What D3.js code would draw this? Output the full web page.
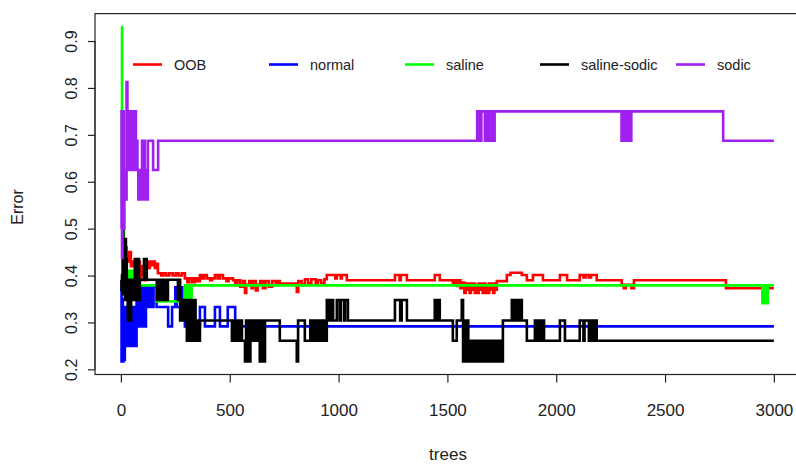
<!DOCTYPE html>
<html><head><meta charset="utf-8">
<script src="https://cdn.jsdelivr.net/npm/d3@7"></script>
<style>
body{margin:0;background:#fff}
svg{display:block}
text{font-family:"Liberation Sans",Arial,sans-serif;fill:#222}
</style>
</head><body>
<svg id="c" width="796" height="464"></svg>
<script>
// ---- data (step change points: [tree, error]) ----
const seriesNames = ["OOB", "normal", "saline", "saline-sodic", "sodic"];
const seriesColors = ["#FF0000", "#0000FF", "#00FF00", "#000000", "#A020F0"];
const xTicks = [0, 500, 1000, 1500, 2000, 2500, 3000];
const yTicks = [0.2, 0.3, 0.4, 0.5, 0.6, 0.7, 0.8, 0.9];
const nTrees = 3000;

const oob = [[1,0.40],[8,0.44],[14,0.42],[20,0.46],[26,0.43],[32,0.45],[37,0.43],[41,0.45],[46,0.42],[52,0.43],[58,0.42],[64,0.43],[72,0.42],[80,0.43],[87,0.39],[92,0.42],[97,0.40],[103,0.42],[108,0.39],[114,0.415],[119,0.43],[128,0.416],[133,0.43],[142,0.422],[150,0.43],[156,0.416],[163,0.425],[170,0.405],[185,0.40],[195,0.405],[208,0.40],[222,0.405],[238,0.40],[252,0.405],[265,0.40],[280,0.405],[294,0.394],[305,0.386],[315,0.394],[328,0.386],[340,0.394],[352,0.388],
[363,0.401],[375,0.394],[382,0.401],[395,0.394],[410,0.39],[418,0.394],[432,0.401],[445,0.394],[455,0.401],[469,0.394],[485,0.388],[495,0.394],[515,0.39],[525,0.38],[535,0.39],[548,0.376],[561,0.388],[570,0.363],[576,0.38],[590,0.388],[600,0.373],[607,0.388],[620,0.368],[628,0.38],[640,0.388],[652,0.373],[664,0.388],[680,0.376],[695,0.388],[712,0.38],[722,0.388],[730,0.383],[808,0.365],[815,0.388],[830,0.38],[845,0.392],[860,0.383],[875,0.392],[895,0.384],[905,0.39],[920,0.383],[935,0.392],
[946,0.401],[985,0.394],[992,0.401],[1010,0.394],[1015,0.401],[1038,0.39],[1259,0.401],[1280,0.39],[1286,0.401],[1314,0.39],[1442,0.401],[1465,0.39],[1525,0.383],[1534,0.39],[1545,0.378],[1552,0.39],[1560,0.373],[1566,0.385],
[1578,0.363],[1584,0.383],[1590,0.37],[1596,0.383],[1602,0.363],[1608,0.383],[1614,0.37],[1620,0.383],[1626,0.363],[1632,0.38],[1638,0.363],[1644,0.383],[1650,0.37],[1656,0.383],[1662,0.363],[1668,0.383],[1674,0.363],[1680,0.38],[1686,0.363],[1692,0.383],[1698,0.37],[1704,0.383],[1710,0.363],[1716,0.383],[1722,0.37],[1727,0.388],
[1773,0.401],[1790,0.406],[1842,0.401],[1865,0.39],[1893,0.401],[1939,0.39],[2017,0.401],[2050,0.39],[2108,0.401],[2125,0.396],[2135,0.401],[2150,0.396],[2160,0.401],[2186,0.39],[2301,0.38],[2310,0.373],[2320,0.38],[2345,0.373],[2357,0.39],[2780,0.373]];

const normal = [[1,0.39],[3,0.217],[6,0.35],[9,0.217],[12,0.333],[15,0.22],[18,0.30],[21,0.25],[25,0.333],[29,0.25],[33,0.375],[37,0.25],[41,0.333],[45,0.25],[49,0.333],[53,0.25],[57,0.333],[61,0.25],[65,0.333],[69,0.25],[72,0.375],[78,0.2917],[83,0.375],[88,0.333],[93,0.2917],[98,0.375],[104,0.333],[110,0.2917],[115,0.375],[118,0.333],[124,0.375],[130,0.333],[136,0.375],[142,0.333],[150,0.375],[164,0.333],[217,0.2917],[235,0.333],[250,0.375],[256,0.333],[275,0.375],[282,0.333],[294,0.2917],[363,0.333],[386,0.2917],[432,0.333],[455,0.2917],[491,0.333],[525,0.2917]];

const saline = [[1,0.93],[5,0.55],[10,0.5],[14,0.45],[20,0.41],[28,0.39],[34,0.41],[42,0.39],[48,0.41],[55,0.379],[164,0.345],[294,0.379],[299,0.345],[304,0.379],[309,0.345],[314,0.379],[319,0.345],[325,0.379],[2947,0.341],[2952,0.379],[2957,0.341],[2962,0.379],[2967,0.341],[2972,0.379]];

const salineSodic = [[1,0.391],[3,0.37],[5,0.40],[7,0.36],[9,0.522],[11,0.391],[13,0.478],[15,0.36],[17,0.435],[19,0.348],[21,0.478],[23,0.391],[25,0.435],[27,0.348],[29,0.391],[32,0.304],[35,0.391],[38,0.304],[41,0.348],[44,0.304],[47,0.391],[50,0.348],[55,0.391],[60,0.348],[64,0.435],[68,0.348],[71,0.435],[75,0.348],[79,0.435],[83,0.348],[87,0.391],[106,0.435],[119,0.391],
[165,0.348],[170,0.391],[175,0.348],[180,0.391],[186,0.348],[192,0.391],[198,0.348],[204,0.391],[210,0.348],[216,0.391],[262,0.348],[267,0.391],[272,0.304],[277,0.348],[282,0.304],[287,0.348],[292,0.304],[297,0.348],[303,0.261],[308,0.348],[313,0.261],[318,0.348],[323,0.261],[328,0.348],[333,0.261],[338,0.348],[343,0.261],[348,0.304],[355,0.261],[363,0.304],
[510,0.261],[515,0.304],[521,0.261],[527,0.304],[533,0.261],[539,0.304],[545,0.261],[551,0.304],[556,0.261],[570,0.217],[575,0.304],[580,0.217],[585,0.304],[590,0.217],[595,0.304],[606,0.261],[611,0.304],[617,0.261],[623,0.304],[629,0.261],[634,0.304],[638,0.217],[643,0.304],[648,0.217],[653,0.304],[658,0.217],[662,0.304],[730,0.261],[808,0.217],[814,0.304],[845,0.261],[870,0.304],
[882,0.261],[888,0.304],[894,0.261],[900,0.304],[906,0.261],[912,0.304],[918,0.261],[924,0.304],[930,0.261],[936,0.304],[942,0.261],[946,0.348],[952,0.304],[958,0.348],[964,0.304],[970,0.348],[975,0.304],[992,0.348],[1005,0.304],[1010,0.348],[1025,0.304],[1030,0.348],[1043,0.304],
[1259,0.348],[1283,0.304],[1290,0.348],[1314,0.304],[1442,0.348],[1448,0.304],[1453,0.348],[1458,0.304],[1462,0.348],[1465,0.304],[1525,0.261],[1543,0.304],[1566,0.348],[1572,0.217],[1578,0.304],[1584,0.217],[1590,0.304],[1596,0.217],
[1603,0.261],[1609,0.217],[1615,0.261],[1621,0.217],[1627,0.261],[1633,0.217],[1639,0.261],[1645,0.217],[1651,0.261],[1657,0.217],[1663,0.261],[1669,0.217],[1675,0.261],[1681,0.217],[1687,0.261],[1693,0.217],[1699,0.261],[1705,0.217],[1711,0.261],[1717,0.217],[1723,0.261],[1729,0.217],[1735,0.261],[1741,0.217],[1747,0.261],[1751,0.217],
[1755,0.304],[1796,0.348],[1802,0.304],[1808,0.348],[1814,0.304],[1820,0.348],[1826,0.304],[1832,0.348],[1842,0.304],[1865,0.261],[1902,0.304],[1908,0.261],[1914,0.304],[1920,0.261],[1926,0.304],[1932,0.261],[1938,0.304],[1944,0.261],[2017,0.304],[2040,0.261],[2108,0.304],[2125,0.261],[2130,0.304],[2150,0.261],[2156,0.304],[2162,0.261],[2168,0.304],[2174,0.261],[2180,0.304],[2186,0.261]];

const sodic = [[1,0.5],[3,0.75],[5,0.4375],[7,0.625],[9,0.5625],[11,0.75],[13,0.5],[16,0.625],[19,0.5625],[22,0.625],[24,0.5625],[26,0.8125],[30,0.75],[33,0.625],[37,0.75],[40,0.625],[43,0.6875],[46,0.625],[49,0.75],[53,0.625],[57,0.75],[61,0.625],[65,0.75],[69,0.625],[72,0.6875],[76,0.625],[80,0.5625],[84,0.625],[88,0.5625],[92,0.625],[97,0.6875],[101,0.5625],[105,0.6875],[110,0.5625],[114,0.625],[118,0.5625],[124,0.6875],[148,0.625],[171,0.6875],
[1637,0.75],[1648,0.6875],[1656,0.75],[1672,0.6875],[1677,0.75],[1682,0.6875],[1687,0.75],[1692,0.6875],[1697,0.75],[1702,0.6875],[1707,0.75],[1712,0.6875],[1717,0.75],
[2300,0.6875],[2305,0.75],[2310,0.6875],[2315,0.75],[2320,0.6875],[2325,0.75],[2330,0.6875],[2335,0.75],[2340,0.6875],[2345,0.75],[2767,0.6875]];

const seriesData = [oob, normal, saline, salineSodic, sodic];

// ---- drawing ----
const svg = d3.select("#c");
const x = d3.scaleLinear().domain([-119, 3120]).range([95, 800]);
const y = d3.scaleLinear().domain([0.189, 0.9585]).range([374.5, 13.6]);

const line = d3.line().x(d => x(d[0])).y(d => y(d[1])).curve(d3.curveStepAfter);

seriesData.forEach((s, i) => {
  const pts = s.concat([[nTrees, s[s.length - 1][1]]]);
  svg.append("path").attr("d", line(pts)).attr("fill", "none")
    .attr("stroke", seriesColors[i]).attr("stroke-width", 2.6)
    .attr("stroke-linejoin", "miter").attr("stroke-linecap", "butt");
});

// box
svg.append("rect").attr("x", x.range()[0]).attr("y", y.range()[1])
  .attr("width", x.range()[1] - x.range()[0]).attr("height", y.range()[0] - y.range()[1])
  .attr("fill", "none").attr("stroke", "#222").attr("stroke-width", 1.2);

// x axis
const xAxis = d3.axisBottom(x).tickValues(xTicks).tickSize(8).tickFormat(d3.format("d"));
const gx = svg.append("g").attr("transform", `translate(0,${y.range()[0]})`).call(xAxis);
gx.select(".domain").attr("d", `M${x(xTicks[0])},0H${x(xTicks[xTicks.length-1])}`).attr("stroke", "#222");
gx.selectAll(".tick line").attr("stroke", "#222").attr("stroke-width", 1.2);
gx.selectAll(".tick text").attr("y", 41).attr("dy", 0).attr("font-size", 17)
  .style("font-family", '"Liberation Sans",Arial,sans-serif').attr("fill", "#222");

// y axis
const yAxis = d3.axisLeft(y).tickValues(yTicks).tickSize(7).tickFormat(d3.format(".1f"));
const gy = svg.append("g").attr("transform", `translate(${x.range()[0]},0)`).call(yAxis);
gy.select(".domain").attr("d", `M0,${y(yTicks[0])}V${y(yTicks[yTicks.length-1])}`).attr("stroke", "#222");
gy.selectAll(".tick line").attr("stroke", "#222").attr("stroke-width", 1.2);
gy.selectAll(".tick text").attr("x", 0).attr("y", 0).attr("dy", 0)
  .attr("text-anchor", "middle").attr("font-size", 16)
  .attr("transform", "translate(-18,0) rotate(-90)")
  .style("font-family", '"Liberation Sans",Arial,sans-serif').attr("fill", "#222");

// axis titles
svg.append("text").attr("x", 448).attr("y", 460).attr("text-anchor", "middle")
  .attr("font-size", 17).text("trees");
svg.append("text").attr("transform", "translate(23,207) rotate(-90)")
  .attr("text-anchor", "middle").attr("font-size", 16).text("Error");

// legend
const legX = [133, 269, 405, 540, 676];
const leg = svg.append("g");
seriesNames.forEach((n, i) => {
  leg.append("line").attr("x1", legX[i]).attr("x2", legX[i] + 29)
    .attr("y1", 64.5).attr("y2", 64.5).attr("stroke", seriesColors[i]).attr("stroke-width", 2.6);
  leg.append("text").attr("x", legX[i] + 41).attr("y", 70).attr("font-size", 14.5).text(n);
});
</script>
</body></html>
